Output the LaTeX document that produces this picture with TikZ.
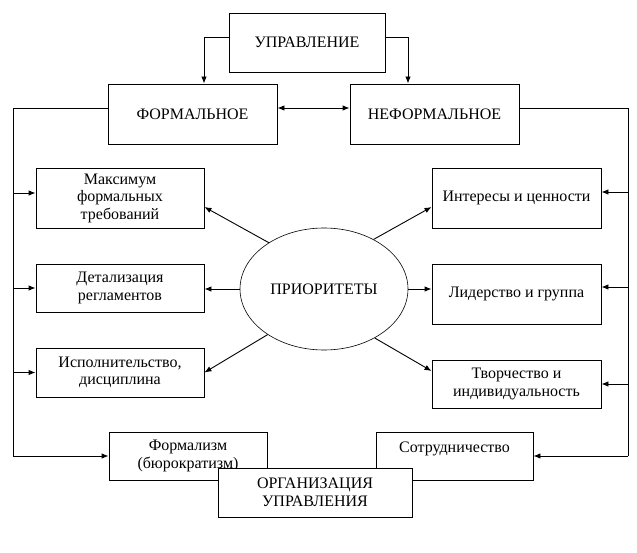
\documentclass[tikz,border=0pt]{standalone}
\usepackage{fontspec}
\setmainfont{Liberation Serif}
\usetikzlibrary{shapes.geometric, arrows.meta, positioning}

\begin{document}
\begin{tikzpicture}[
    x=1pt, y=-1pt,
    >={Latex[length=7pt, width=5.5pt]},
    line width=0.9pt,
    box/.style={draw, line width=0.9pt, align=center, inner sep=2pt,
                font=\fontsize{16}{17.5}\selectfont},
    oval/.style={ellipse, draw, line width=0.6pt, inner sep=0pt,
                 minimum width=168pt, minimum height=122pt,
                 font=\fontsize{16}{17.5}\selectfont}
  ]
  \useasboundingbox (0,0) rectangle (637,553);

  % top
  \node[box, minimum width=156pt, minimum height=59pt] (upr) at (307,42.5) {УПРАВЛЕНИЕ};
  \node[box, minimum width=169pt, minimum height=60pt] (formal) at (192.5,114) {ФОРМАЛЬНОЕ};
  \node[box, minimum width=169pt, minimum height=60pt] (informal) at (434.5,114) {НЕФОРМАЛЬНОЕ};

  % left column
  \node[box, minimum width=168pt, minimum height=60pt] (l1) at (120,198) {Максимум\\формальных\\требований};
  \node[box, minimum width=168pt, minimum height=48pt] (l2) at (120,288) {Детализация\\регламентов};
  \node[box, minimum width=168pt, minimum height=49pt] (l3) at (120,372.5) {Исполнительство,\\дисциплина};

  % right column
  \node[box, minimum width=169pt, minimum height=60pt] (r1) at (516.5,198) {Интересы и ценности};
  \node[box, minimum width=169pt, minimum height=60pt] (r2) at (516.5,294) {Лидерство и группа};
  \node[box, minimum width=169pt, minimum height=48pt] (r3) at (516.5,384) {Творчество и\\индивидуальность};

  \node[oval] (pri) at (324,289) {ПРИОРИТЕТЫ};

  % bottom
  \node[box, minimum width=158pt, minimum height=48pt] (formz) at (188,456) {Формализм\\(бюрократизм)};
  \node[box, minimum width=157pt, minimum height=48pt] (coop) at (454.5,456) {Сотрудничество\\~};

  \coordinate (lft) at (13,456);
  \coordinate (rgt) at (628,456);

  \draw[->] ([yshift=5pt]upr.west) -| ([xshift=11.5pt]formal.north);
  \draw[->] ([yshift=5pt]upr.east) -| ([xshift=-26.5pt]informal.north);
  \draw[<->] ([yshift=6pt]formal.east) -- ([yshift=6pt]informal.west);

  \draw ([yshift=6pt]formal.west) -| (lft);
  \draw[->] (lft) -- (formz.west);
  \draw ([yshift=6pt]informal.east) -| (rgt);
  \draw[->] (rgt) -- (coop.east);

  \foreach \n/\d in {l1/5, l2/0, l3/0}
    \draw[->] ([yshift=\d pt]lft |- \n.west) -- ([yshift=\d pt]\n.west);
  \foreach \n/\d in {r1/6, r2/7, r3/0}
    \draw[->] ([yshift=\d pt]rgt |- \n.east) -- ([yshift=\d pt]\n.east);

  \draw[->] (pri.140) -- ([yshift=-9pt]l1.east);
  \draw[->] (pri.west) -- (pri.west -| l2.east);
  \draw[->] (pri.219) -- (l3.east);
  \draw[->] (pri.45) -- ([yshift=-9pt]r1.west);
  \draw[->] (pri.east) -- (pri.east -| r2.west);
  \draw[->] (pri.-44) -- ([yshift=13pt]r3.west);

  \node[box, fill=white, minimum width=194pt, minimum height=49pt] (org) at (315,492.5) {ОРГАНИЗАЦИЯ\\УПРАВЛЕНИЯ};
\end{tikzpicture}
\end{document}
